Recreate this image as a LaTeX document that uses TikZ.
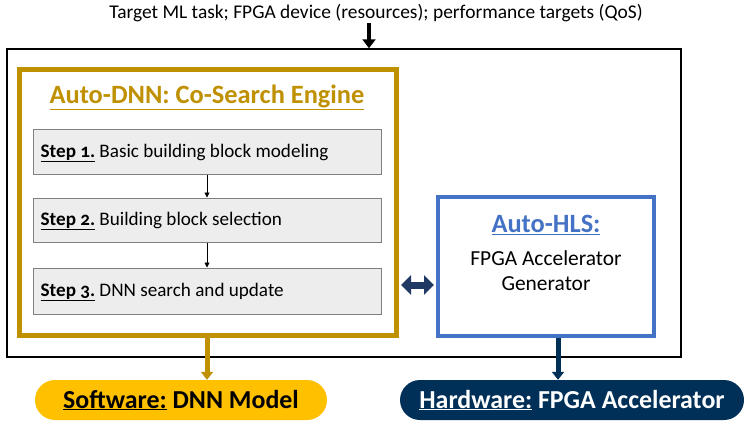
\documentclass[tikz,border=0pt]{standalone}
\usepackage{fontspec}
\setmainfont{Carlito}[Numbers=OldStyle]
\usetikzlibrary{arrows.meta}
\definecolor{gold}{RGB}{191,144,0}
\definecolor{pillgold}{RGB}{255,192,0}
\definecolor{hlsblue}{RGB}{68,114,196}
\definecolor{navy}{RGB}{31,56,100}
\definecolor{hwnavy}{RGB}{0,48,87}
\definecolor{stepfill}{RGB}{237,237,237}
\definecolor{stepdraw}{RGB}{127,127,127}
\tikzset{
  stepbox/.style={draw=stepdraw, fill=stepfill, line width=1pt, minimum width=348bp, inner sep=0pt},
  pill/.style={rounded corners=20bp, minimum height=40bp, inner sep=0pt, font=\fontsize{26}{30}\selectfont\bfseries},
  steplabel/.style={anchor=west, font=\fontsize{19.2}{22}\selectfont, inner sep=0pt},
}
\begin{document}
\begin{tikzpicture}[x=1bp,y=-1bp]
\useasboundingbox (0,0) rectangle (747,424);
% top text
\node[font=\fontsize{19.5}{22}\selectfont, inner sep=0pt] (t) at (376,13) {Target ML task; FPGA device (resources); performance targets (QoS)};
% outer box
\node[draw=black, line width=1.5bp, minimum width=674bp, minimum height=308bp, inner sep=0pt] (outer) at (344,203) {};
\coordinate (tin) at (369,23);
\draw[line width=4bp, -{Triangle[width=13bp,length=9bp]}] (tin) -- (tin |- outer.north);
% gold box
\node[draw=gold, line width=5bp, minimum width=377bp, minimum height=266bp, inner sep=0pt] (gold) at (208,202.5) {};
\node[text=gold, font=\fontsize{26.5}{30}\selectfont\bfseries, inner sep=0pt] (title) at (207,97) {\underline{Auto-DNN: Co-Search Engine}};
% steps
\node[stepbox, minimum height=45bp] (s1) at (207,151.5) {};
\node[stepbox, minimum height=44bp] (s2) at (207,220) {};
\node[stepbox, minimum height=46bp] (s3) at (207,291) {};
\node[steplabel] (l1) at ([xshift=8bp,yshift=-1.5bp]s1.west) {\textbf{\underline{Step 1.}} Basic building block modeling};
\node[steplabel] (l2) at ([xshift=8bp,yshift=-1bp]s2.west) {\textbf{\underline{Step 2.}} Building block selection};
\node[steplabel] (l3) at ([xshift=8bp,yshift=-1bp]s3.west) {\textbf{\underline{Step 3.}} DNN search and update};
\draw[line width=0.8bp, -{Triangle[width=5bp,length=5bp]}] (s1) -- (s2);
\draw[line width=0.8bp, -{Triangle[width=5bp,length=5bp]}] (s2) -- (s3);
% HLS box
\node[draw=hlsblue, line width=4bp, minimum width=216bp, minimum height=139bp, inner sep=0pt] (hls) at (546,266.5) {};
\node[text=hlsblue, font=\fontsize{26.5}{30}\selectfont\bfseries, inner sep=0pt] (hlst) at (546,225) {\underline{Auto-HLS:}};
\node[font=\fontsize{21.5}{25}\selectfont, align=center, inner sep=0pt] (hlsd) at (546,271) {FPGA Accelerator\\Generator};
% double arrow
\coordinate (da) at (0,285);
\draw[navy, line width=7bp, {Triangle[width=19bp,length=10bp]}-{Triangle[width=19bp,length=10bp]}] (gold.east |- da) ++(2,0) -- ([xshift=-2bp]hls.west |- da);
% pills
\node[pill, fill=pillgold, minimum width=292bp] (sw) at (181,400) {\underline{Software:} DNN Model};
\node[pill, fill=hwnavy, text=white, minimum width=344bp] (hw) at (572,400) {\underline{Hardware:} FPGA Accelerator};
\coordinate (ga) at (207,0);
\coordinate (ha) at (558,0);
\draw[gold, line width=5bp, -{Triangle[width=12bp,length=8bp]}] (ga |- gold.south) -- (ga |- sw.north);
\draw[hwnavy, line width=5bp, -{Triangle[width=12bp,length=8bp]}] (ha |- hls.south) -- (ha |- hw.north);
\end{tikzpicture}
\end{document}
